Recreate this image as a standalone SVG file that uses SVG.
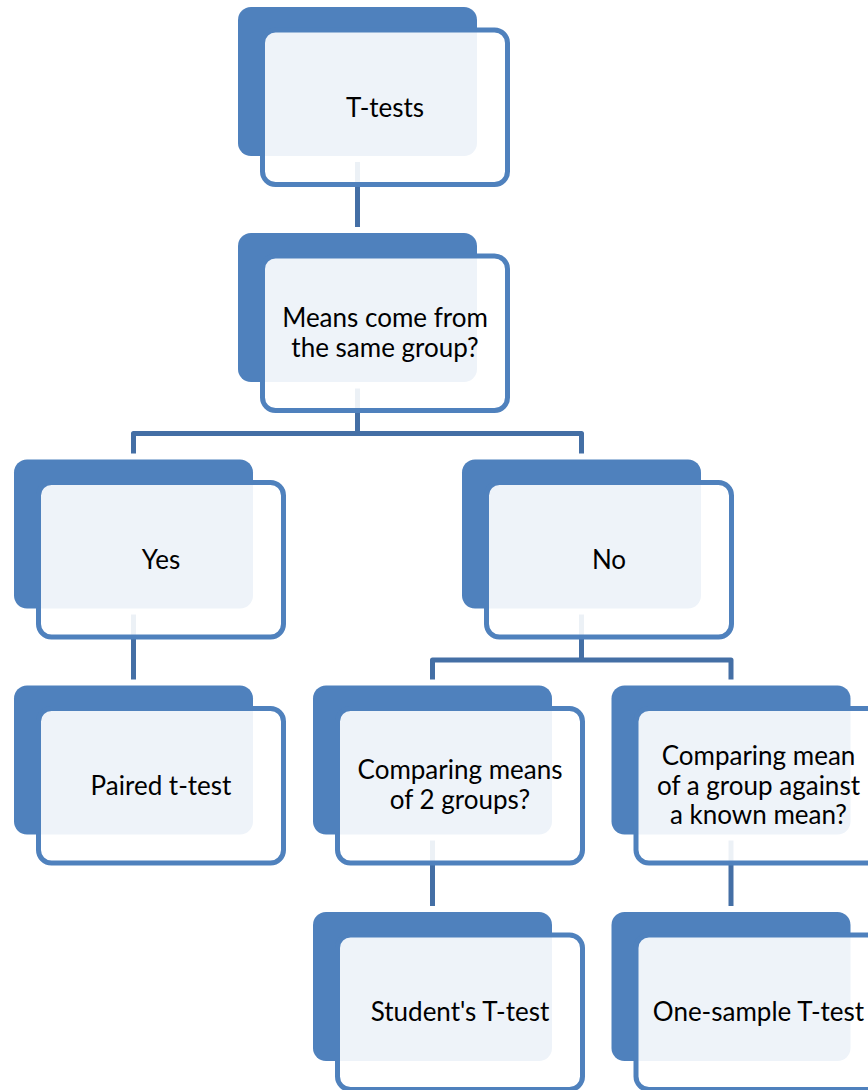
<svg xmlns="http://www.w3.org/2000/svg" width="868" height="1090" viewBox="0 0 868 1090">
<style>
.bg{fill:#4F81BD;}
.fg{fill:#FFFFFF;fill-opacity:0.9;stroke:#4F81BD;stroke-width:5;}
.conn{fill:none;stroke:#446FA5;stroke-width:5;stroke-linejoin:round;}
.lbl{font-family:Lato,"Liberation Sans",sans-serif;font-size:26px;fill:#000;text-anchor:middle;}
</style>
<rect width="868" height="1090" fill="#FFFFFF"/>
<g id="connectors">
<path class="conn" d="M357.5,162 V227"/>
<path class="conn" d="M357.5,388.5 V433.5"/>
<path class="conn" d="M133.5,453.5 V433.5 H581.5 V453.5"/>
<path class="conn" d="M133.5,614.5 V679.5"/>
<path class="conn" d="M581.5,614.5 V660"/>
<path class="conn" d="M432.5,679.5 V660 H731 V679.5"/>
<path class="conn" d="M432.5,840.5 V906"/>
<path class="conn" d="M731,840.5 V906"/>
</g>
<g id="node-ttests">
<rect class="bg" x="238" y="7" width="239" height="149" rx="13"/>
<rect class="fg" x="262.5" y="30" width="245" height="154.5" rx="13"/>
<text class="lbl" x="385" y="116.5">T-tests</text>
</g>
<g id="node-means">
<rect class="bg" x="238" y="233" width="239" height="149" rx="13"/>
<rect class="fg" x="262.5" y="256" width="245" height="154.5" rx="13"/>
<text class="lbl" x="385" y="327">Means come from</text>
<text class="lbl" x="385" y="356.5">the same group?</text>
</g>
<g id="node-yes">
<rect class="bg" x="14" y="459.5" width="239" height="149" rx="13"/>
<rect class="fg" x="38.5" y="482.5" width="245" height="154.5" rx="13"/>
<text class="lbl" x="161" y="568.5">Yes</text>
</g>
<g id="node-no">
<rect class="bg" x="462" y="459.5" width="239" height="149" rx="13"/>
<rect class="fg" x="486.5" y="482.5" width="245" height="154.5" rx="13"/>
<text class="lbl" x="609" y="568.5">No</text>
</g>
<g id="node-paired">
<rect class="bg" x="14" y="685.5" width="239" height="149" rx="13"/>
<rect class="fg" x="38.5" y="708.5" width="245" height="154.5" rx="13"/>
<text class="lbl" x="161" y="794.5">Paired t-test</text>
</g>
<g id="node-comparing-means">
<rect class="bg" x="313" y="685.5" width="239" height="149" rx="13"/>
<rect class="fg" x="337.5" y="708.5" width="245" height="154.5" rx="13"/>
<text class="lbl" x="460" y="779">Comparing means</text>
<text class="lbl" x="460" y="808.5">of 2 groups?</text>
</g>
<g id="node-comparing-mean">
<rect class="bg" x="611.5" y="685.5" width="239" height="149" rx="13"/>
<rect class="fg" x="636" y="708.5" width="245" height="154.5" rx="13"/>
<text class="lbl" x="758.5" y="765">Comparing mean</text>
<text class="lbl" x="758.5" y="794.5">of a group against</text>
<text class="lbl" x="758.5" y="824">a known mean?</text>
</g>
<g id="node-student">
<rect class="bg" x="313" y="912" width="239" height="149" rx="13"/>
<rect class="fg" x="337.5" y="935" width="245" height="154.5" rx="13"/>
<text class="lbl" x="460" y="1020.5">Student's T-test</text>
</g>
<g id="node-one-sample">
<rect class="bg" x="611.5" y="912" width="239" height="149" rx="13"/>
<rect class="fg" x="636" y="935" width="245" height="154.5" rx="13"/>
<text class="lbl" x="758.5" y="1020.5">One-sample T-test</text>
</g>
</svg>
